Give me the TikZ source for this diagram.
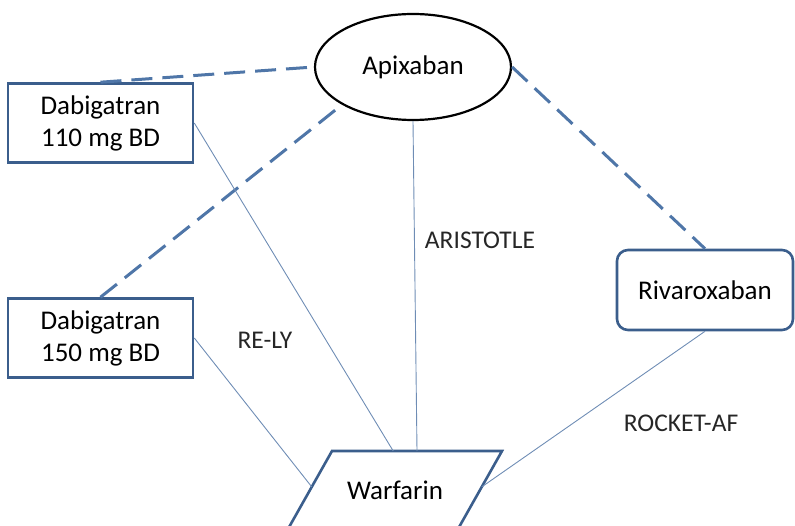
\documentclass[tikz,border=0pt]{standalone}
\usepackage{fontspec}
\setmainfont{Carlito}
\usetikzlibrary{calc,shapes.geometric}

\definecolor{boxblue}{HTML}{3B5E8C}
\definecolor{dashblue}{HTML}{4F76A8}
\definecolor{lineblue}{HTML}{6F8DB5}

\tikzset{
  drugbox/.style={draw=boxblue, line width=2.6pt, fill=white, align=center,
    minimum width=185pt, minimum height=79pt, font=\fontsize{27}{32}\selectfont},
  trialtext/.style={font=\fontsize{25.5}{30}\selectfont, text=black!85},
  indirect/.style={draw=dashblue, line width=3pt, dash pattern=on 21pt off 10pt},
  direct/.style={draw=lineblue, line width=0.9pt}
}

\begin{document}
\begin{tikzpicture}[x=1pt, y=1pt]
      \useasboundingbox (0, 0) rectangle (795, 525);
      % drugs
      \node[drugbox, draw=black, line width=2.2pt, ellipse, minimum width=196pt, minimum height=106pt] (apix) at (413, 458) {Apixaban};
      \node[drugbox] (dab110) at (100.5, 402) {Dabigatran\\110 mg BD};
      \node[drugbox] (dab150) at (100.5, 187) {Dabigatran\\150 mg BD};
      \node[drugbox, rounded corners=11pt, minimum width=176pt, minimum height=80pt] (riva) at (705, 235) {Rivaroxaban};
      % warfarin parallelogram
      \coordinate (wbl) at (288, -4);
      \coordinate (wtl) at (332, 74);
      \coordinate (wtr) at (502, 74);
      \coordinate (wbr) at (458, -4);
      \draw[draw=boxblue, line width=2.6pt, fill=white] (wbl) -- (wtl) -- (wtr) -- (wbr) -- cycle;
      \node[font=\fontsize{27}{32}\selectfont] (warf) at (395, 35) {Warfarin};
      % indirect comparisons
      \draw[indirect] (dab110.north) -- (apix.west);
      \draw[indirect] (dab150.north) -- (apix.208);
      \draw[indirect] (apix.east) -- (riva.north);
      % trials against warfarin
      \draw[direct] (dab110.east) -- ($(wtl)!0.36!(wtr)$);
      \draw[direct] (apix.south) -- ($(wtl)!0.5!(wtr)$);
      \draw[direct] (dab150.east) -- ($(wtl)!0.46!(wbl)$);
      \draw[direct] (riva.south) -- ($(wtr)!0.46!(wbr)$);
      \node[trialtext] (aristotle) at (480, 285) {ARISTOTLE};
      \node[trialtext] (rely) at (265, 185) {RE-LY};
      \node[trialtext] (rocket) at (681, 102) {ROCKET-AF};
    \end{tikzpicture}
\end{document}
